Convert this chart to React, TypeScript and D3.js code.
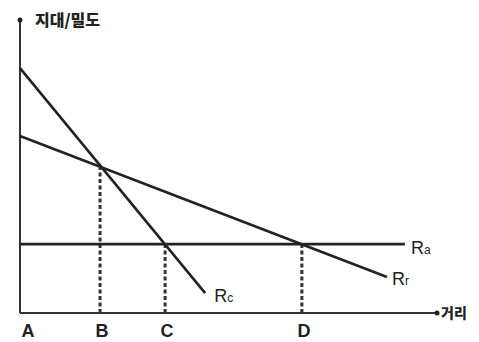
import React from "react";
import * as d3 from "d3";

// distance (x) and rent/density (y) in abstract units 0..100
const rcLine: [number, number][] = [[0, 83.6], [44.4, 6.8]];
const rrLine: [number, number][] = [[0, 60.4], [88.0, 12.3]];
const raLine: [number, number][] = [[0, 23.5], [92.3, 23.5]];
const lineNames = ["R", "R", "R"];
const lineSubs = ["c", "r", "a"];
const cutoffNames = ["A", "B", "C", "D"];
const cutoffX = [0, 19.2, 34.8, 67.6];
const cutoffTop = [0, 49.6, 23.5, 23.5];
const yTitle = "지대/밀도";
const xTitle = "거리";

const W = 479;
const H = 342;

export default function App() {
  const x = d3.scaleLinear().domain([0, 100]).range([20, 437]);
  const y = d3.scaleLinear().domain([0, 100]).range([313, 20]);
  const line = d3
    .line<[number, number]>()
    .x((d) => x(d[0]))
    .y((d) => y(d[1]));
  const series = [rcLine, rrLine, raLine];
  const labelOffsets = [
    { dx: 9, dy: 9 },
    { dx: 5, dy: 8 },
    { dx: 6, dy: 10 },
  ];
  const font = "'Liberation Sans', Arial, sans-serif";
  return (
    <svg
      width={W}
      height={H}
      style={{ position: "absolute", left: 0, top: 0, background: "#fff" }}
    >
      {/* axes */}
      <line x1={x(0)} y1={y(0)} x2={x(0)} y2={y(100)} stroke="#333" strokeWidth={2} />
      <line x1={x(0)} y1={y(0)} x2={x(100)} y2={y(0)} stroke="#333" strokeWidth={2} />
      <circle cx={x(0)} cy={y(100)} r={2.5} fill="#222" />
      <circle cx={x(100)} cy={y(0)} r={2.5} fill="#222" />
      <text
        x={x(0) + 15}
        y={y(100) + 6}
        fontFamily="'Noto Sans CJK KR', sans-serif"
        fontWeight={900}
        fontSize={16}
        fill="#222"
      >
        {yTitle}
      </text>
      <text
        x={x(100) + 4}
        y={y(0) + 5}
        fontFamily="'Noto Sans CJK KR', sans-serif"
        fontWeight={900}
        fontSize={14}
        fill="#222"
      >
        {xTitle}
      </text>
      {/* dashed cutoffs */}
      {cutoffX.map((cx, i) =>
        cutoffTop[i] > 0 ? (
          <line
            key={"d" + i}
            x1={x(cx)}
            x2={x(cx)}
            y1={y(0)}
            y2={y(cutoffTop[i])}
            stroke="#333"
            strokeWidth={3}
            strokeDasharray="4,2.5"
          />
        ) : null
      )}
      {cutoffNames.map((n, i) => (
        <text
          key={"c" + i}
          x={x(cutoffX[i]) + (i === 0 ? 8 : 2)}
          y={337}
          textAnchor="middle"
          fontFamily={font}
          fontWeight={700}
          fontSize={18}
          fill="#222"
        >
          {n}
        </text>
      ))}
      {/* rent lines */}
      {series.map((s, i) => (
        <path key={"l" + i} d={line(s) || ""} fill="none" stroke="#222" strokeWidth={2.6} />
      ))}
      {series.map((s, i) => {
        const end = s[s.length - 1];
        return (
          <text
            key={"t" + i}
            x={x(end[0]) + labelOffsets[i].dx}
            y={y(end[1]) + labelOffsets[i].dy}
            fontFamily={font}
            fontSize={18}
            fill="#222"
          >
            {lineNames[i]}
            <tspan fontSize={12}>{lineSubs[i]}</tspan>
          </text>
        );
      })}
    </svg>
  );
}
